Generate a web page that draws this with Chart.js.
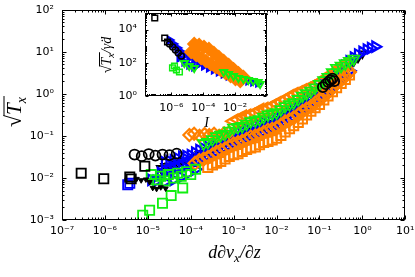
<!DOCTYPE html>
<html><head><meta charset="utf-8">
<script src="https://cdn.jsdelivr.net/npm/chart.js@4/dist/chart.umd.min.js"></script>
<style>html,body{margin:0;padding:0;background:#fff;}#wrap{position:relative;width:415px;height:277px;}canvas{position:absolute;}#main{left:0;top:0;}#inset{left:60px;top:0;}</style>
</head><body><div id="wrap"><canvas id="main" width="415" height="277"></canvas><canvas id="inset" width="215" height="135"></canvas></div>
<script>
// ---- tick values / labels ----
const xTickValues = [1e-7, 1e-6, 1e-5, 1e-4, 1e-3, 1e-2, 1e-1, 1, 10];
const xTickLabels = ['10⁻⁷', '10⁻⁶', '10⁻⁵', '10⁻⁴', '10⁻³', '10⁻²', '10⁻¹', '10⁰', '10¹'];
const yTickValues = [1e-3, 1e-2, 1e-1, 1, 10, 100];
const yTickLabels = ['10⁻³', '10⁻²', '10⁻¹', '10⁰', '10¹', '10²'];
const insetXTickValues = [1e-6, 1e-4, 1e-2];
const insetXTickLabels = ['10⁻⁶', '10⁻⁴', '10⁻²'];
const insetYTickValues = [1, 100, 1e4];
const insetYTickLabels = ['10⁰', '10²', '10⁴'];

// ---- main panel data ----
const bandX = [2.0e-5, 2.5e-5, 3.2e-5, 4.0e-5, 5.0e-5, 6.3e-5, 7.9e-5, 1.0e-4, 1.26e-4, 1.58e-4, 2.0e-4, 2.5e-4, 3.2e-4, 4.0e-4, 5.0e-4, 6.3e-4, 7.9e-4, 1.0e-3, 1.26e-3, 1.58e-3, 2.0e-3, 2.5e-3, 3.2e-3, 4.0e-3, 5.0e-3, 6.3e-3, 7.9e-3, 1.0e-2, 1.26e-2, 1.58e-2, 2.0e-2, 2.5e-2, 3.2e-2, 4.0e-2, 5.0e-2, 6.3e-2, 7.9e-2, 0.1, 0.126, 0.158, 0.2, 0.25, 0.32, 0.4, 0.5, 0.63, 0.79, 1.0, 1.26, 1.58, 2.0];
const blackBandY = [0.0170, 0.0190, 0.0196, 0.0218, 0.0225, 0.0250, 0.0258, 0.0288, 0.0310, 0.0362, 0.0390, 0.0456, 0.0490, 0.0575, 0.0620, 0.0720, 0.0780, 0.0905, 0.0960, 0.109, 0.115, 0.131, 0.139, 0.158, 0.167, 0.190, 0.200, 0.228, 0.252, 0.300, 0.332, 0.395, 0.440, 0.535, 0.605, 0.735, 0.840, 1.02, 1.24, 1.58, 1.92, 2.45, 2.98, 3.78, 4.62, 5.85, 7.15, 9.0, null, null, null];
const blueUpperY = [null, 0.0234, 0.0252, 0.0262, 0.0289, 0.0318, 0.0331, 0.0348, 0.0398, 0.0460, 0.0501, 0.0552, 0.0631, 0.0725, 0.0795, 0.0870, 0.100, 0.115, 0.123, 0.131, 0.147, 0.168, 0.178, 0.190, 0.214, 0.240, 0.257, 0.276, 0.324, 0.380, 0.427, 0.480, 0.563, 0.675, 0.777, 0.895, 1.07, 1.30, 1.59, 1.92, 2.46, 3.10, 3.80, 4.60, 5.90, 7.30, 8.6, 9.9, 11.2, 12.2, 13.2];
const blueLowerY = [0.0132, 0.0146, 0.0152, 0.0158, 0.0174, 0.0192, 0.0200, 0.0208, 0.0240, 0.0276, 0.0302, 0.0332, 0.0380, 0.0436, 0.0479, 0.0525, 0.0603, 0.0690, 0.0742, 0.0795, 0.0888, 0.100, 0.107, 0.115, 0.129, 0.145, 0.155, 0.166, 0.195, 0.230, 0.257, 0.290, 0.339, 0.405, 0.468, 0.540, 0.646, 0.775, 0.956, 1.16, 1.48, 1.86, 2.29, 2.76, 3.55, null, null, null, null, null, null];
const greenTriY = [null, null, null, null, null, null, null, null, null, null, 0.066, 0.071, 0.083, 0.097, 0.105, 0.112, 0.132, 0.155, 0.162, 0.170, 0.194, 0.222, 0.234, 0.248, 0.282, 0.320, 0.339, 0.360, 0.427, 0.505, 0.563, 0.625, 0.742, 0.895, 1.02, 1.17, 1.41, 1.70, 2.09, 2.50, 3.24, 4.10, 4.6, 5.3, 6.0, 6.8, null, null, null, null, null];
const orangeTriY = [null, null, null, null, null, null, null, null, null, null, null, null, null, null, null, null, null, 0.224, 0.245, 0.280, 0.294, 0.310, 0.354, 0.405, 0.427, 0.450, 0.512, 0.580, 0.645, 0.720, 0.851, 0.95, 1.05, 1.18, 1.30, 1.45, 1.62, 1.80, 2.15, 2.55, 3.05, 3.55, 4.3, 5.2, null, null, null, null, null, null, null];
const orangeSqY = [null, null, null, null, null, null, null, null, null, null, null, 0.0179, 0.0205, 0.0225, 0.0246, 0.0283, 0.0325, 0.0356, 0.0380, 0.0428, 0.0480, 0.0516, 0.0550, 0.0620, 0.070, 0.074, 0.080, 0.088, 0.103, 0.124, 0.149, 0.175, 0.208, 0.255, 0.315, 0.385, 0.470, 0.560, 0.72, 0.89, 1.12, 1.40, 1.78, 2.20, 2.80, null, null, null, null, null, null];
const orangeDiaY = [null, null, null, null, null, null, null, null, 0.0224, 0.0260, 0.0282, 0.0305, 0.0355, 0.0410, 0.0447, 0.0490, 0.0562, 0.0650, 0.0692, 0.0740, 0.0828, 0.0940, 0.0998, 0.107, 0.120, 0.136, 0.144, 0.155, 0.182, 0.215, 0.240, 0.268, 0.316, 0.380, 0.437, 0.500, 0.603, 0.730, 0.89, 1.08, 1.38, 1.75, 2.14, 2.63, 3.3, null, null, null, null, null, null];

const orangeRowX = [9.3e-5, 1.2e-4, 1.6e-4, 2.1e-4, 2.7e-4, 3.5e-4, 4.6e-4, 6.0e-4, 7.8e-4];
const orangeRowY = [0.105, 0.112, 0.100, 0.110, 0.104, 0.112, 0.101, 0.115, 0.122];
const blackSqX = [2.8e-7, 9.4e-7, 3.8e-6, 4.1e-6, 8.5e-6];
const blackSqY = [0.013, 0.0096, 0.0105, 0.0095, 0.019];
const blackCircX = [4.9e-6, 7.2e-6, 1.05e-5, 1.5e-5, 2.2e-5, 3.2e-5, 4.7e-5, 0.12, 0.14, 0.16, 0.18, 0.20, 0.22];
const blackCircY = [0.036, 0.033, 0.037, 0.034, 0.036, 0.035, 0.038, 1.45, 1.7, 1.9, 2.1, 2.3, 2.0];
const blackSmallX = [1.3e-5, 1.6e-5, 2.0e-5, 2.6e-5, 5.5e-6, 7.0e-6, 9.0e-6, 1.1e-5];
const blackSmallY = [0.0058, 0.0055, 0.0060, 0.0056, 0.0095, 0.0088, 0.0092, 0.0080];
const blueSqX = [3.4e-6, 3.8e-6];
const blueSqY = [0.0069, 0.0075];
const blueLowX = [1.2e-5, 1.6e-5, 2.5e-5, 4.0e-5, 6.0e-5, 9.0e-5, 1.3e-4];
const blueLowY = [0.0090, 0.0085, 0.0080, 0.0090, 0.0105, 0.0130, 0.0160];
const greenSqX = [7.6e-6, 1.1e-5, 2.2e-5, 3.5e-5, 6.5e-5, 1.5e-5, 2.0e-5, 2.5e-5, 3.0e-5, 4.0e-5, 5.0e-5, 6.0e-5, 8.0e-5, 1.0e-4, 1.3e-4, 1.2e-5, 1.7e-5];
const greenSqY = [0.0013, 0.0017, 0.0025, 0.0038, 0.0058, 0.009, 0.011, 0.0085, 0.012, 0.010, 0.013, 0.011, 0.014, 0.012, 0.016, 0.012, 0.0075];

// ---- inset data ----
const insetBlackSqX = [9e-8, 3.8e-7, 5.7e-7];
const insetBlackSqY = [5.0e4, 3.1e3, 1.8e3];
const insetBlackCircX = [7.6e-7, 1.2e-6, 1.8e-6, 2.7e-6, 4.2e-6];
const insetBlackCircY = [1350, 890, 590, 390, 260];
const insetBlueX = [7.65e-7, 1.35e-6, 2.39e-6, 4.2e-6, 7.4e-6, 1.32e-5, 2.7e-5, 5.5e-5, 1.11e-4, 2.26e-4, 4.6e-4, 9.4e-4, 1.9e-3, 3.9e-3, 7.9e-3, 1.6e-2, 3.3e-2, 6.7e-2, 0.136, 0.277, 3.2e-6, 6.5e-6, 1.32e-5, 2.7e-5];
const insetBlueY = [2360, 1360, 780, 448, 295, 195, 128, 85, 64, 49, 37, 28, 21, 16, 14, 10.6, 9.2, 8.0, 7.0, 6.1, 195, 112, 74, 56];
const insetOrangeX = [2.7e-5, 5.5e-5, 1.11e-4, 2.26e-4, 4.6e-4, 9.4e-4, 1.9e-3, 3.9e-3, 7.9e-3, 1.6e-2, 3.3e-2, 1.75e-5, 3.6e-5, 7.3e-5, 1.48e-4, 3.0e-4, 6.1e-4, 1.25e-3, 2.5e-3, 5.2e-3, 1.05e-2, 2.1e-2];
const insetOrangeY = [1360, 1180, 895, 678, 389, 224, 128, 74, 42, 24, 14, 448, 295, 195, 128, 85, 56, 37, 24, 16, 10.6, 8.0];
const insetGreenX = [1.9e-3, 3.9e-3, 7.9e-3, 1.6e-2, 3.3e-2, 6.7e-2, 0.136, 0.277, 0.37, 6.5e-6, 1.32e-5, 2.7e-5];
const insetGreenY = [28, 21, 16, 12.1, 10.6, 9.2, 8.0, 7.0, 5.3, 97, 64, 49];
const insetGreenSqX = [1.17e-6, 2.07e-6, 3.2e-6, 1.56e-6];
const insetGreenSqY = [49, 37, 28, 64];

// ---- helpers ----
const BLACK = '#000000', BLUE = '#0000ff', GREEN = '#11ee11', ORANGE = '#ff8000';
function mk(xs, ys, color, style, r, rot, filled, bw) {
  const data = [];
  for (let i = 0; i < xs.length; i++) if (ys[i] !== null) data.push({x: xs[i], y: ys[i]});
  return {data, pointStyle: style, pointRadius: r, pointRotation: rot,
    pointBorderColor: color, pointBackgroundColor: filled ? color : 'rgba(0,0,0,0)',
    pointBorderWidth: bw || 1.8, borderColor: color, showLine: false};
}
function tickPlugin(id, majorX, majorY, majLen, minLen, fillWhite) {
  return {
    id,
    beforeDatasetsDraw(chart) {
      if (!fillWhite) return;
      const a = chart.chartArea, ctx = chart.ctx;
      ctx.save(); ctx.fillStyle = '#fff'; ctx.fillRect(a.left, a.top, a.right - a.left, a.bottom - a.top); ctx.restore();
    },
    afterDatasetsDraw(chart) {
      const ctx = chart.ctx, a = chart.chartArea, xs = chart.scales.x, ys = chart.scales.y;
      const L = Math.round(a.left) + 0.5, R = Math.round(a.right) - 0.5, T = Math.round(a.top) + 0.5, B = Math.round(a.bottom) - 0.5;
      ctx.save(); ctx.strokeStyle = '#000'; ctx.lineWidth = 1; ctx.beginPath();
      const isMaj = (list, v) => list.some(t => Math.abs(t / v - 1) < 1e-6);
      for (let e = Math.floor(Math.log10(xs.min)); e <= Math.ceil(Math.log10(xs.max)); e++) {
        for (let m = 1; m < 10; m++) {
          const v = m * Math.pow(10, e);
          if (v < xs.min * 0.999 || v > xs.max * 1.001) continue;
          const len = (m === 1 && isMaj(majorX, v)) ? majLen : minLen;
          const p = Math.round(xs.getPixelForValue(v)) + 0.5;
          ctx.moveTo(p, B); ctx.lineTo(p, B - len); ctx.moveTo(p, T); ctx.lineTo(p, T + len);
        }
      }
      for (let e = Math.floor(Math.log10(ys.min)); e <= Math.ceil(Math.log10(ys.max)); e++) {
        for (let m = 1; m < 10; m++) {
          const v = m * Math.pow(10, e);
          if (v < ys.min * 0.999 || v > ys.max * 1.001) continue;
          const len = (m === 1 && isMaj(majorY, v)) ? majLen : minLen;
          const p = Math.round(ys.getPixelForValue(v)) + 0.5;
          ctx.moveTo(L, p); ctx.lineTo(L + len, p); ctx.moveTo(R, p); ctx.lineTo(R - len, p);
        }
      }
      ctx.stroke();
      ctx.strokeRect(L, T, R - L, B - T);
      ctx.restore();
    }
  };
}
const SERIF = '"Liberation Serif", "DejaVu Serif", serif';
function drawParts(ctx, parts, startX) {
  let x = startX;
  for (const p of parts) { ctx.font = p.f; ctx.fillText(p.t, x, p.dy || 0); p.x0 = x; x += ctx.measureText(p.t).width; p.x1 = x; }
  return x;
}
function partsWidth(ctx, parts) { let w = 0; for (const p of parts) { ctx.font = p.f; w += ctx.measureText(p.t).width; } return w; }
function mathLabel(ctx, parts, cx, cy, rotate, barY) {
  ctx.save(); ctx.translate(cx, cy); if (rotate) ctx.rotate(-Math.PI / 2);
  ctx.fillStyle = '#000'; ctx.textBaseline = 'alphabetic'; ctx.textAlign = 'left';
  const w = partsWidth(ctx, parts); drawParts(ctx, parts, -w / 2);
  const bar = parts.filter(p => p.bar);
  if (bar.length) { ctx.strokeStyle = '#000'; ctx.lineWidth = 1; ctx.beginPath(); ctx.moveTo(bar[0].x0 - 1, barY); ctx.lineTo(bar[bar.length - 1].x1 + 1, barY); ctx.stroke(); }
  ctx.restore();
}
const mainLabels = {
  id: 'mainLabels',
  afterDraw(chart) {
    const ctx = chart.ctx;
    mathLabel(ctx, [{t: 'd∂v', f: 'italic 18px ' + SERIF}, {t: 'x', f: 'italic 13px ' + SERIF, dy: 4}, {t: '/∂z', f: 'italic 18px ' + SERIF}], 234.5, 258, false, 0);
    mathLabel(ctx, [{t: '√', f: '22px ' + SERIF}, {t: 'T', f: 'italic 21px ' + SERIF, bar: true}, {t: 'x', f: 'italic 14px ' + SERIF, dy: 5, bar: true}], 21, 112, true, -17);
  }
};
const IL = 60; // inset canvas left offset in the page
const insetLabels = {
  id: 'insetLabels',
  afterDraw(chart) {
    const ctx = chart.ctx;
    mathLabel(ctx, [{t: 'I', f: 'italic 14px ' + SERIF}], 206.5 - IL, 127, false, 0);
    mathLabel(ctx, [{t: '√', f: '14px ' + SERIF}, {t: 'T', f: 'italic 14px ' + SERIF, bar: true}, {t: 'x', f: 'italic 10px ' + SERIF, dy: 3, bar: true}, {t: '/γ\u0307d', f: 'italic 14px ' + SERIF}], 111 - IL, 55, true, -11.5);
  }
};
function logAxis(min, max, tv, tl, pad, fitProp, fitVal) {
  return {
    type: 'logarithmic', min, max, grid: {display: false}, border: {display: false},
    afterBuildTicks: s => { s.ticks = tv.map(v => ({value: v})); },
    afterFit: s => { s[fitProp] = fitVal; s.paddingLeft = 0; s.paddingRight = 0; s.paddingTop = 0; s.paddingBottom = 0; },
    ticks: {autoSkip: false, maxRotation: 0, minRotation: 0, padding: pad, color: '#000', font: {family: 'DejaVu Sans', size: 11}, callback: (v, i) => tl[i]}
  };
}
Chart.defaults.font.family = 'DejaVu Sans';

new Chart(document.getElementById('main'), {
  type: 'scatter',
  data: {datasets: [
    mk(blackSmallX, blackSmallY, BLACK, 'triangle', 3, 180, true, 1),
    mk(blackCircX, blackCircY, BLACK, 'circle', 5, 0, false),
    mk(blackSqX, blackSqY, BLACK, 'rect', 6.5, 0, false),
    mk(greenSqX, greenSqY, GREEN, 'rect', 6.5, 0, false),
    mk(bandX, greenTriY, GREEN, 'triangle', 6.5, 180, false),
    mk(orangeRowX, orangeRowY, ORANGE, 'rectRot', 6, 0, false, 2.2),
    mk(bandX, orangeTriY, ORANGE, 'triangle', 7.5, 270, false, 2.2),
    mk(bandX, orangeDiaY, ORANGE, 'rectRot', 6.5, 0, false, 2.2),
    mk(bandX, orangeSqY, ORANGE, 'rect', 6.5, 0, false, 2),
    mk(bandX, blueUpperY, BLUE, 'triangle', 6, 90, false, 2.2),
    mk(bandX, blueLowerY, BLUE, 'triangle', 6, 90, false, 2.2),
    mk(blueLowX, blueLowY, BLUE, 'triangle', 6, 90, false, 2.2),
    mk(bandX, blackBandY, BLACK, 'triangle', 4.5, 180, false),
    mk(blueSqX, blueSqY, BLUE, 'rect', 6.5, 0, false)
  ]},
  options: {
    responsive: false, animation: false, devicePixelRatio: 1, events: [],
    layout: {padding: {left: 0, top: 3.7, right: 8, bottom: 0}},
    plugins: {legend: {display: false}, tooltip: {enabled: false}},
    scales: {x: logAxis(1e-7, 10, xTickValues, xTickLabels, -3, 'height', 57), y: logAxis(1e-3, 100, yTickValues, yTickLabels, 0, 'width', 62)}
  },
  plugins: [tickPlugin('mainTicks', xTickValues, yTickValues, 4, 2, false), mainLabels]
});

new Chart(document.getElementById('inset'), {
  type: 'scatter',
  data: {datasets: [
    mk(insetBlackSqX, insetBlackSqY, BLACK, 'rect', 4, 0, false, 1.5),
    mk(insetBlackCircX, insetBlackCircY, BLACK, 'circle', 3, 0, false, 1.5),
    mk(insetGreenSqX, insetGreenSqY, GREEN, 'rect', 4, 0, false, 1.5),
    mk(insetGreenX, insetGreenY, GREEN, 'triangle', 4, 180, false, 2),
    mk(insetOrangeX, insetOrangeY, ORANGE, 'rectRot', 6, 0, true, 2),
    mk(insetBlueX, insetBlueY, BLUE, 'triangle', 4, 90, true, 2)
  ]},
  options: {
    responsive: false, animation: false, devicePixelRatio: 1, events: [],
    layout: {padding: {left: 0, top: 13, right: 6, bottom: 0}},
    plugins: {legend: {display: false}, tooltip: {enabled: false}},
    scales: {x: logAxis(2.2e-8, 1, insetXTickValues, insetXTickLabels, -2, 'height', 39), y: logAxis(1, 1e5, insetYTickValues, insetYTickLabels, 0, 'width', 85)}
  },
  plugins: [tickPlugin('insetTicks', insetXTickValues, insetYTickValues, 3, 1.5, true), insetLabels]
});
</script></body></html>
